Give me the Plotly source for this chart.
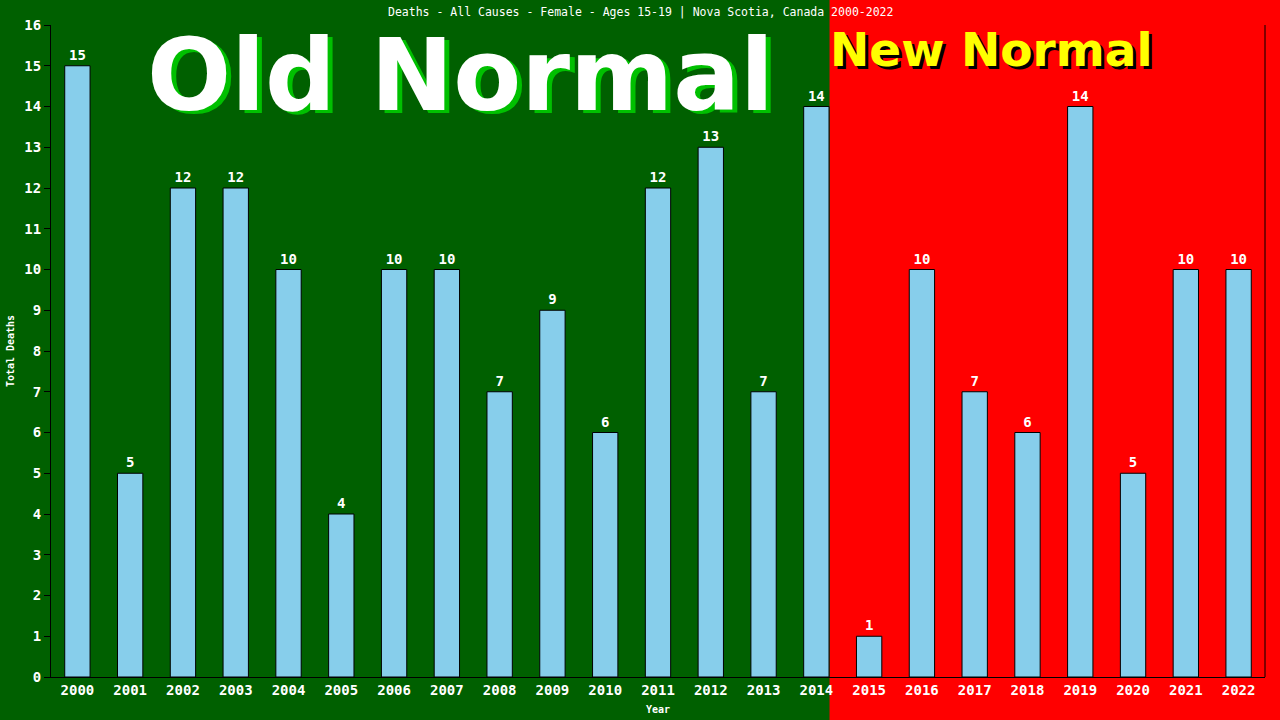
import plotly.graph_objects as go

years = [str(y) for y in range(2000, 2023)]
deaths = [15, 5, 12, 12, 10, 4, 10, 10, 7, 9, 6, 12, 13, 7, 14, 1, 10, 7, 6, 14, 5, 10, 10]
title_text = "Deaths - All Causes - Female - Ages 15-19 | Nova Scotia, Canada 2000-2022"
old_label = "Old Normal"
new_label = "New Normal"
split_index = 14.25  # right edge of 2014 bar, where the "New Normal" zone starts

GREEN = "#006000"
RED = "#ff0000"
MONO = "DejaVu Sans Mono"
BOLD = "DejaVu Sans"

xmin, xmax = -0.5, len(years) - 0.5
split_frac = (split_index - xmin) / (xmax - xmin)

fig = go.Figure()
fig.add_trace(go.Bar(
    x=list(range(len(years))), y=deaths,
    width=0.48,
    marker=dict(color="#87ceeb", line=dict(color="black", width=1)),
    text=[str(v) for v in deaths], textposition="outside",
    textfont=dict(color="white", family=MONO, size=14, weight="bold"),
    cliponaxis=False,
))

shapes = [
    dict(type="rect", xref="paper", yref="paper", x0=split_frac, x1=1.5, y0=-0.5, y1=1.5,
         fillcolor=RED, line=dict(width=0), layer="below"),
    dict(type="line", xref="paper", yref="paper", x0=1, x1=1, y0=0, y1=1,
         line=dict(color="black", width=1)),
]

annotations = [
    dict(text=title_text, xref="paper", yref="paper", x=0.4853, y=1, yshift=13,
         showarrow=False, font=dict(color="white", family=MONO, size=11.5), xanchor="center", yanchor="middle"),
    # Old Normal shadow and text
    dict(text=f"<b>{old_label}</b>", xref="paper", yref="paper", x=0.337, y=0.93, xshift=5, yshift=-8,
         showarrow=False, font=dict(color="#00c000", family=BOLD, size=99), xanchor="center", yanchor="middle"),
    dict(text=f"<b>{old_label}</b>", xref="paper", yref="paper", x=0.337, y=0.93, yshift=-5,
         showarrow=False, font=dict(color="white", family=BOLD, size=99), xanchor="center", yanchor="middle"),
    # New Normal shadow and text
    dict(text=f"<b>{new_label}</b>", xref="paper", yref="paper", x=split_frac, y=0.965, xshift=1, yshift=-5,
         showarrow=False, font=dict(color="black", family=BOLD, size=47), xanchor="left", yanchor="middle"),
    dict(text=f"<b>{new_label}</b>", xref="paper", yref="paper", x=split_frac, y=0.965, xshift=-2, yshift=-2,
         showarrow=False, font=dict(color="#ffff00", family=BOLD, size=47), xanchor="left", yanchor="middle"),
]

fig.update_layout(
    width=1280, height=720,
    margin=dict(l=51, r=15, t=25, b=43),
    paper_bgcolor=GREEN, plot_bgcolor="rgba(0,0,0,0)",
    showlegend=False, bargap=0.5,
    shapes=shapes, annotations=annotations,
    xaxis=dict(range=[xmin, xmax], tickmode="array", tickvals=list(range(len(years))), ticktext=years,
               automargin=False,
               showgrid=False, zeroline=False, showline=True, linecolor="black", linewidth=1,
               ticks="", tickfont=dict(color="white", family=MONO, size=14, weight="bold"),
               title=dict(text="<b>Year</b>", font=dict(color="white", family=MONO, size=10), standoff=9)),
    yaxis=dict(range=[0, 16], dtick=1, showgrid=False, zeroline=False, showline=True, automargin=False,
               linecolor="black", linewidth=1, ticks="outside", ticklen=6, tickcolor="black",
               tickfont=dict(color="white", family=MONO, size=14, weight="bold"),
               title=dict(text="<b>Total Deaths</b>", font=dict(color="white", family=MONO, size=10), standoff=7)),
)

fig.write_html("out.html", config={"displayModeBar": False},
               post_script="document.body.style.margin='0';")
